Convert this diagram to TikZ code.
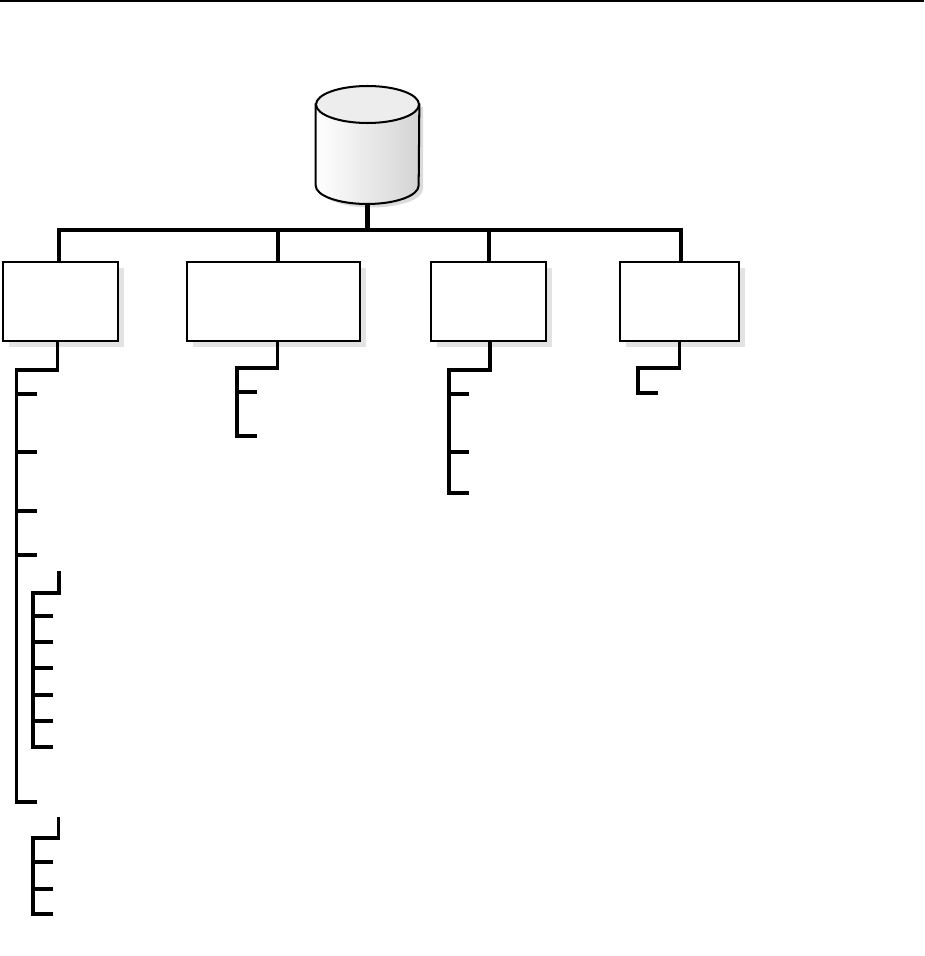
\documentclass[tikz,border=0pt]{standalone}
\usetikzlibrary{shadows}
\tikzset{
	boxnode/.style={draw=black, fill=white, line width=1.15pt, inner sep=0pt, minimum height=1.58cm,
		general shadow={fill=black!11, shadow xshift=0.12cm, shadow yshift=-0.12cm}},
	busline/.style={line width=2.3pt},
	stemline/.style={line width=1.75pt},
	tickline/.style={line width=1.75pt}
}
\begin{document}
\begin{tikzpicture}[x=0.02cm, y=-0.02cm, line join=miter, line cap=butt]
	\useasboundingbox (0,0) rectangle (924,956);
	\coordinate (PL) at (0,1);
	\coordinate (PR) at (924,1);
	\draw[line width=0.6pt, black] (PL) -- (PR);

	% cylinder
	\node[inner sep=0pt, minimum width=2.06cm, minimum height=2.38cm] (db) at (367.5,145) {};
	\fill[black!14] (320,107) -- (320,189) arc[start angle=180, end angle=0, x radius=51.5, y radius=18.5] -- (423,107) -- cycle;
	\draw[line width=1.15pt, left color=white, right color=black!17] (db.west |- 0,104.5) -- (db.west |- 0,185.5)
		arc[start angle=180, end angle=0, x radius=51.5, y radius=18.5] -- (db.east |- 0,104.5) -- cycle;
	\draw[line width=1.15pt, fill=black!7] (367.5,104.5) ellipse[x radius=51.5, y radius=18.5];

	% boxes
	\node[boxnode, minimum width=2.31cm] (box1) at (60.5,301.5) {};
	\node[boxnode, minimum width=3.47cm] (box2) at (273.5,301.5) {};
	\node[boxnode, minimum width=2.31cm] (box3) at (488.5,301.5) {};
	\node[boxnode, minimum width=2.39cm] (box4) at (679.5,301.5) {};

	% bus
	\coordinate (BL) at (59.3,230);
	\coordinate (BM) at (367.5,230);
	\coordinate (B2) at (278,230);
	\coordinate (B3) at (489,230);
	\coordinate (BR) at (681,230);
	\draw[busline] (db.south) -- (BM);
	\draw[busline] (box1.north -| BL) -- (BL) -- (BR) -- (box4.north -| BR);
	\draw[busline] (B2) -- (box2.north -| B2);
	\draw[busline] (B3) -- (box3.north -| B3);

	% first box
	\coordinate (A1) at (57.7,370);
	\coordinate (A2) at (16.8,370);
	\coordinate (A3) at (16.8,802);
	\coordinate (A4) at (37,802);
	\draw[stemline] (box1.south -| A1) -- (A1) -- (A2) -- (A3) -- (A4);
	\foreach \y in {394,452,511,555} {
		\coordinate (a\y) at (16.8,\y);
		\coordinate (b\y) at (37,\y);
		\draw[tickline] (a\y) -- (b\y);
	}
	\coordinate (C0) at (59,571);
	\coordinate (C1) at (59,593);
	\coordinate (C2) at (33,593);
	\coordinate (C3) at (33,747);
	\coordinate (C4) at (53,747);
	\draw[tickline] (C0) -- (C1) -- (C2) -- (C3) -- (C4);
	\foreach \y in {616,642,668,695,721} {
		\coordinate (c\y) at (33,\y);
		\coordinate (d\y) at (53,\y);
		\draw[tickline] (c\y) -- (d\y);
	}
	\coordinate (D0) at (58.5,817);
	\coordinate (D1) at (58.5,838);
	\coordinate (D2) at (33,838);
	\coordinate (D3) at (33,914);
	\coordinate (D4) at (53,914);
	\draw[tickline] (D0) -- (D1) -- (D2) -- (D3) -- (D4);
	\foreach \y in {862,889} {
		\coordinate (e\y) at (33,\y);
		\coordinate (f\y) at (53,\y);
		\draw[tickline] (e\y) -- (f\y);
	}

	% second box
	\coordinate (E1) at (277.5,368);
	\coordinate (E2) at (237,368);
	\coordinate (E3) at (237,436);
	\coordinate (E4) at (257,436);
	\coordinate (E5) at (237,392);
	\coordinate (E6) at (257,392);
	\draw[stemline] (box2.south -| E1) -- (E1) -- (E2) -- (E3) -- (E4);
	\draw[tickline] (E5) -- (E6);

	% third box
	\coordinate (F1) at (490,370);
	\coordinate (F2) at (449,370);
	\coordinate (F3) at (449,493);
	\coordinate (F4) at (469,493);
	\draw[stemline] (box3.south -| F1) -- (F1) -- (F2) -- (F3) -- (F4);
	\foreach \y in {394,452} {
		\coordinate (g\y) at (449,\y);
		\coordinate (h\y) at (469,\y);
		\draw[tickline] (g\y) -- (h\y);
	}

	% fourth box
	\coordinate (G1) at (679.5,368);
	\coordinate (G2) at (638,368);
	\coordinate (G3) at (638,393);
	\coordinate (G4) at (658,393);
	\draw[stemline] (box4.south -| G1) -- (G1) -- (G2) -- (G3) -- (G4);
\end{tikzpicture}
\end{document}
